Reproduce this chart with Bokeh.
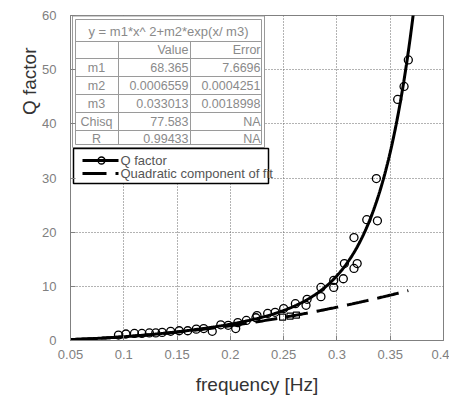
import numpy as np
from bokeh.plotting import figure
from bokeh.models import Range1d, Title
from bokeh.core.properties import value
from bokeh.embed import file_html
from bokeh.resources import INLINE

# ---- data ----
freq = [0.095, 0.102, 0.110, 0.117, 0.124, 0.130, 0.136, 0.144, 0.152, 0.160,
        0.168, 0.175, 0.183, 0.191, 0.198, 0.205, 0.207, 0.215, 0.224, 0.225,
        0.235, 0.242, 0.250, 0.261, 0.271, 0.272, 0.285, 0.285, 0.297, 0.297,
        0.306, 0.307, 0.316, 0.319, 0.316, 0.328, 0.338, 0.337, 0.357, 0.363,
        0.367]
qfac = [1.0, 1.2, 1.3, 1.3, 1.4, 1.4, 1.5, 1.7, 1.8, 1.8,
        2.1, 2.2, 1.7, 2.9, 2.8, 2.2, 3.3, 3.7, 4.2, 4.6,
        5.0, 5.2, 5.9, 6.8, 6.5, 7.6, 8.1, 9.8, 9.8, 11.1,
        11.4, 14.2, 13.3, 14.2, 19.0, 22.3, 22.1, 29.9, 44.5, 46.9,
        51.8]
quad_sq_x = [0.249, 0.256, 0.262]
quad_sq_y = [4.3, 4.5, 4.7]

# fit parameters (from the table)
m1, m2, m3 = 68.365, 0.0006559, 0.033013
fit_x = np.linspace(0.05, 0.3725, 400)
fit_y = m1 * fit_x ** 2 + m2 * np.exp(fit_x / m3)
quad_x = np.linspace(0.05, 0.367, 200)
quad_y = m1 * quad_x ** 2

x_ticks = [0.05, 0.1, 0.15, 0.2, 0.25, 0.3, 0.35, 0.4]
x_tick_labels = ["0.05", "0.1", "0.15", "0.2", "0.25", "0.3", "0.35", "0.4"]
y_ticks = [0, 10, 20, 30, 40, 50, 60]

table_title = "y = m1*x^ 2+m2*exp(x/ m3)"
table_header = ["Value", "Error"]
row_names = ["m1", "m2", "m3", "Chisq", "R"]
row_values = ["68.365", "0.0006559", "0.033013", "77.583", "0.99433"]
row_errors = ["7.6696", "0.0004251", "0.0018998", "NA", "NA"]

legend_labels = ["Q factor", "Quadratic component of fit"]

FONT = value("Liberation Sans")

# ---- figure ----
p = figure(width=449, height=397, x_range=Range1d(0.05, 0.4), y_range=Range1d(0, 60),
           output_backend="svg", toolbar_location=None,
           min_border_left=70, min_border_right=6, min_border_top=15, min_border_bottom=57)
p.background_fill_color = "white"
p.border_fill_color = "white"
p.outline_line_color = "#808080"
p.outline_line_width = 1

p.xaxis.ticker = x_ticks
p.xaxis.major_label_overrides = {t: l for t, l in zip(x_ticks, x_tick_labels)}
p.yaxis.ticker = y_ticks
for ax in (p.xaxis, p.yaxis):
    ax.axis_line_color = "#808080"
    ax.major_tick_line_color = "#808080"
    ax.major_tick_in = 5
    ax.major_tick_out = 0
    ax.minor_tick_line_color = None
    ax.major_label_text_font = "Liberation Sans"
    ax.major_label_text_font_size = "13px"
    ax.major_label_text_color = "#808080"
    ax.major_label_text_line_height = 1.0
p.xaxis.major_label_standoff = 9
p.yaxis.major_label_standoff = 14
p.xaxis.axis_label = "frequency [Hz]"
p.xaxis.axis_label_text_font = "Liberation Sans"
p.xaxis.axis_label_text_font_style = "normal"
p.xaxis.axis_label_text_font_size = "19px"
p.xaxis.axis_label_text_color = "#333333"
p.xaxis.axis_label_text_line_height = 1.0
p.xaxis.axis_label_standoff = 12

for g in (p.xgrid, p.ygrid):
    g.grid_line_color = "#666666"
    g.grid_line_dash = "1 2"
    g.grid_line_width = 1

# ---- series ----
p.line(quad_x, quad_y, line_color="black", line_width=3, line_dash="22 9")
p.line(fit_x, fit_y, line_color="black", line_width=3)
p.scatter(freq, qfac, marker="circle", size=8, fill_color=None,
          line_color="black", line_width=1.3)
p.scatter(quad_sq_x, quad_sq_y, marker="square", size=6, fill_color=None,
          line_color="black", line_width=1.2)

# page-pixel to data helpers (frame spans page px 70..443 x 15..340)
def X(px):
    return 0.05 + (px - 70) / 373 * 0.35

def Y(py):
    return (340 - py) / 325 * 60

# ---- parameter table ----
GRAY = "#9a9a9a"
TXT = "#8a8a8a"
p.quad(left=[X(72)], right=[X(264)], top=[Y(15.5)], bottom=[Y(147)],
       fill_color="white", line_color=GRAY, line_width=1)
p.quad(left=[X(75)], right=[X(261)], top=[Y(19)], bottom=[Y(144)],
       fill_color=None, line_color=GRAY, line_width=1)
row_lines = [41, 58, 76, 94, 112, 130]
p.segment(x0=[X(75)] * len(row_lines), x1=[X(261)] * len(row_lines),
          y0=[Y(r) for r in row_lines], y1=[Y(r) for r in row_lines],
          line_color=GRAY, line_width=1)
p.segment(x0=[X(118), X(190)], x1=[X(118), X(190)], y0=[Y(41)] * 2, y1=[Y(144)] * 2,
          line_color=GRAY, line_width=1)
p.text(x=[X(168)], y=[Y(31)], text=[table_title], text_font=FONT, text_font_size="13px",
       text_align="center", text_baseline="middle", text_color=TXT)
p.text(x=[X(188), X(260)], y=[Y(49.5)] * 2, text=table_header, text_font=FONT,
       text_font_size="12.5px", text_align="right", text_baseline="middle", text_color=TXT)
row_cy = [67, 85, 103, 121, 138]
p.text(x=[X(96)] * 5, y=[Y(c) for c in row_cy], text=row_names, text_font=FONT,
       text_font_size="12.5px", text_align="center", text_baseline="middle", text_color=TXT)
p.text(x=[X(188)] * 5, y=[Y(c) for c in row_cy], text=row_values, text_font=FONT,
       text_font_size="12.5px", text_align="right", text_baseline="middle", text_color=TXT)
p.text(x=[X(260)] * 5, y=[Y(c) for c in row_cy], text=row_errors, text_font=FONT,
       text_font_size="12.5px", text_align="right", text_baseline="middle", text_color=TXT)

# ---- legend box ----
p.quad(left=[X(73)], right=[X(268)], top=[Y(148)], bottom=[Y(183)],
       fill_color="white", line_color="black", line_width=1.5)
p.line([X(82), X(118)], [Y(160), Y(160)], line_color="black", line_width=3)
p.scatter([X(101)], [Y(160)], marker="circle", size=7, fill_color=None,
          line_color="black", line_width=1.3)
p.line([X(82), X(106)], [Y(173), Y(173)], line_color="black", line_width=3)
p.line([X(115), X(118)], [Y(173), Y(173)], line_color="black", line_width=3)
p.text(x=[X(120), X(120)], y=[Y(160), Y(173)], text=legend_labels, text_font=FONT,
       text_font_size="13px", text_align="left", text_baseline="middle", text_color="#555555")

# ---- y axis title (placed near the top, as in the reference) ----
ytitle = Title(text="Q factor", align="right", offset=32, standoff=0,
               text_font="Liberation Sans", text_font_size="19px",
               text_font_style="normal", text_color="#333333")
p.add_layout(ytitle, "left")

open("out.html", "w").write(file_html(p, INLINE))
